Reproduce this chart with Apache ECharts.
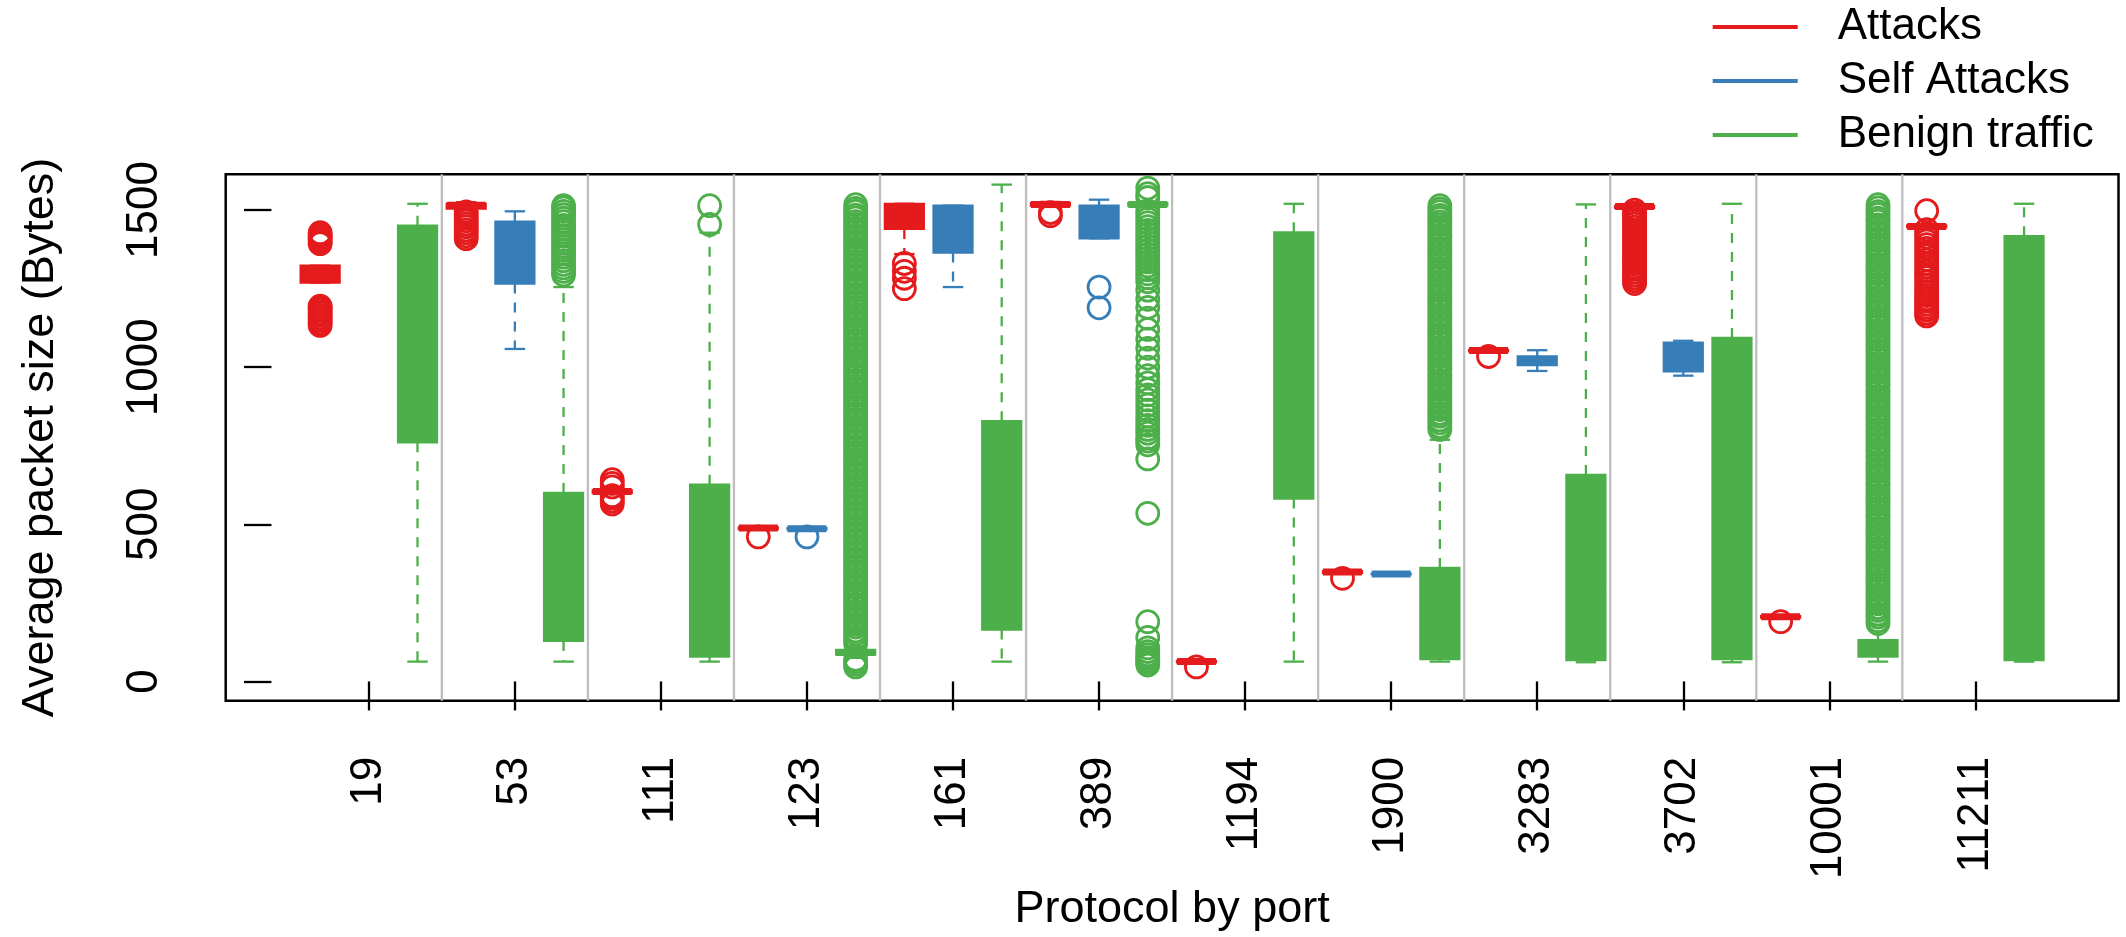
<!DOCTYPE html>
<html>
<head>
<meta charset="utf-8">
<script src="https://cdn.jsdelivr.net/npm/echarts@6/dist/echarts.min.js"></script>
<style>
html,body{margin:0;padding:0;background:#fff;}
#chart{width:2126px;height:937px;}
</style>
</head>
<body>
<div id="chart"></div>
<script>
// ---- Data ----
const ports = ['19','53','111','123','161','389','1194','1900','3283','3702','10001','11211'];
const seriesNames = ['Attacks','Self Attacks','Benign traffic'];
const yTicks = [0, 500, 1000, 1500];

// box stats: [lowerWhisker, Q1, median, Q3, upperWhisker]; null = no data
const attackBoxes = [
  [1269,1269,1300,1323,1323],
  [1500,1505,1515,1520,1525],
  [598,600,604,608,612],
  [484,485,488,490,492],
  [1360,1440,1490,1520,1520],
  [1510,1514,1518,1522,1526],
  [60,61,63,65,66],
  [343,345,348,351,353],
  [1049,1050,1053,1055,1057],
  [1505,1507,1511,1513,1515],
  [202,203,206,208,210],
  [1443,1445,1448,1451,1453]
];
const selfBoxes = [
  null,
  [1058,1266,1380,1463,1496],
  null,
  [482,484,486,488,490],
  [1255,1365,1460,1514,1514],
  [1410,1410,1480,1514,1533],
  null,
  [340,341,342,343,344],
  [988,1007,1020,1034,1054],
  [973,987,1040,1078,1084],
  null,
  null
];
const benignBoxes = [
  [63,761,1180,1450,1520],
  [63,129,390,600,1255],
  [63,79,330,626,1428],
  [75,85,92,100,112],
  [63,165,420,828,1581],
  [1510,1514,1518,1522,1526],
  [63,582,1100,1429,1520],
  [63,71,160,361,769],
  [61,68,300,657,1518],
  [61,71,500,1093,1520],
  [63,79,100,131,180],
  [63,68,900,1417,1520]
];

// outliers per port
const attackOutliers = [
  [1133,1141,1149,1157,1165,1173,1181,1188,1194,1393,1400,1408,1415,1421,1428],
  [1409,1418,1428,1437,1447,1456,1466,1475,1485,1494],
  [565,574,583,591,619,630,642],
  [460],
  [1250,1283,1305,1330],
  [1482,1492],
  [46],
  [328],
  [1034],
  [1266,1275,1284,1293,1302,1311,1320,1329,1338,1347,1356,1365,1374,1383,1392,1401,1410,1419,1428,1437,1446,1455,1464,1473,1482,1491,1500],
  [190],
  [1163,1172,1182,1190,1200,1210,1218,1228,1240,1250,1262,1272,1285,1295,1305,1318,1330,1342,1355,1365,1378,1390,1402,1414,1426,1438,1498]
];
const selfOutliers = [
  [],[],[],[460],[],[1189,1255],[],[],[],[],[],[]
];
const benignOutliers = [
  [],
  [1294,1305,1316,1327,1339,1350,1361,1372,1384,1395,1406,1418,1429,1440,1451,1463,1474,1485,1496,1507,1514],
  [1454,1514],
  [46,55,63,70,120,131,140,152,161,173,182,194,203,215,224,236,245,257,266,278,287,299,308,320,329,341,350,362,371,383,392,404,413,425,434,446,455,467,476,488,497,509,518,530,539,551,560,572,581,593,602,614,623,635,644,656,665,677,686,698,707,719,728,740,749,761,770,782,791,803,812,824,833,845,854,866,875,887,896,908,917,929,938,950,959,971,980,992,1001,1013,1022,1034,1043,1055,1064,1076,1085,1097,1106,1118,1127,1139,1148,1160,1169,1181,1190,1202,1211,1223,1232,1244,1253,1265,1274,1286,1295,1307,1316,1328,1337,1349,1358,1370,1379,1391,1400,1412,1421,1433,1442,1454,1463,1475,1484,1496,1505,1517],
  [],
  [52,60,68,76,85,95,107,140,190,535,708,753,765,775,790,802,815,830,845,863,880,896,912,929,950,973,1000,1029,1060,1089,1120,1156,1190,1216,1245,1272,1285,1297,1310,1322,1335,1347,1360,1372,1385,1397,1410,1422,1435,1447,1460,1472,1485,1497,1540,1552,1570],
  [],
  [802,811,823,832,844,853,865,874,886,895,907,916,928,937,949,958,970,979,991,1000,1012,1021,1033,1042,1054,1063,1075,1084,1096,1105,1117,1126,1138,1147,1159,1168,1180,1189,1201,1210,1222,1231,1243,1252,1264,1273,1285,1294,1306,1315,1327,1336,1348,1357,1369,1378,1390,1399,1411,1420,1432,1441,1453,1462,1474,1483,1495,1504,1514],
  [],
  [],
  [184,193,205,214,226,235,247,256,268,277,289,298,310,319,331,340,352,361,373,382,394,403,415,424,436,445,457,466,478,487,499,508,520,529,541,550,562,571,583,592,604,613,625,634,646,655,667,676,688,697,709,718,730,739,751,760,772,781,793,802,814,823,835,844,856,865,877,886,898,907,919,928,940,949,961,970,982,991,1003,1012,1024,1033,1045,1054,1066,1075,1087,1096,1108,1117,1129,1138,1150,1159,1171,1180,1192,1201,1213,1222,1234,1243,1255,1264,1276,1285,1297,1306,1318,1327,1339,1348,1360,1369,1381,1390,1402,1411,1423,1432,1444,1453,1465,1474,1486,1495,1507,1517],
  []
];

// ---- Styling ----
const colors = ['#E41A1C', '#377EB8', '#4DAF4A'];
const FONT = '"Liberation Sans", Arial, Helvetica, sans-serif';
const X_MIN = -0.94, X_MAX = 37.94, Y_MIN = -61.5, Y_MAX = 1613.8;
const LW = 2.3;

// ---- Build series data ----
function boxData(boxes, offset) {
  const out = [];
  boxes.forEach((b, i) => { if (b) out.push([i * 3 + offset].concat(b)); });
  return out;
}
function outlierData(outs, offset) {
  const out = [];
  outs.forEach((arr, i) => arr.forEach(v => out.push([i * 3 + offset, v])));
  return out;
}
const labelPositions = ports.map((p, i) => i * 3 + 2);
const separatorPositions = ports.slice(1).map((p, i) => i * 3 + 3.5);

function renderBox(params, api) {
  const x = api.value(0);
  const low = api.value(1), q1 = api.value(2), med = api.value(3), q3 = api.value(4), high = api.value(5);
  const c = api.visual('color');
  const X = v => api.coord([v, 0])[0];
  const Y = v => api.coord([x, v])[1];
  const xc = X(x), xl = X(x - 0.4), xr = X(x + 0.4), sl = X(x - 0.21), sr = X(x + 0.21);
  const ch = [];
  const dash = { stroke: c, lineWidth: LW, lineDash: [10, 9] };
  if (high > q3) ch.push({ type: 'line', shape: { x1: xc, y1: Y(q3), x2: xc, y2: Y(high) }, style: dash });
  if (low < q1) ch.push({ type: 'line', shape: { x1: xc, y1: Y(q1), x2: xc, y2: Y(low) }, style: dash });
  ch.push({ type: 'line', shape: { x1: sl, y1: Y(high), x2: sr, y2: Y(high) }, style: { stroke: c, lineWidth: LW } });
  ch.push({ type: 'line', shape: { x1: sl, y1: Y(low), x2: sr, y2: Y(low) }, style: { stroke: c, lineWidth: LW } });
  ch.push({ type: 'rect', shape: { x: xl, y: Y(q3), width: xr - xl, height: Math.max(Y(q1) - Y(q3), 0.5) },
            style: { fill: c, stroke: c, lineWidth: LW } });
  ch.push({ type: 'line', shape: { x1: xl, y1: Y(med), x2: xr, y2: Y(med) }, style: { stroke: c, lineWidth: 7, lineCap: 'butt' } });
  return { type: 'group', children: ch };
}

function renderSep(params, api) {
  const x = api.value(0);
  const p1 = api.coord([x, Y_MIN]), p2 = api.coord([x, Y_MAX]);
  return { type: 'line', shape: { x1: p1[0], y1: p1[1], x2: p2[0], y2: p2[1] }, style: { stroke: '#BEBEBE', lineWidth: 2.3 } };
}

const allBoxes = [attackBoxes, selfBoxes, benignBoxes];
const allOutliers = [attackOutliers, selfOutliers, benignOutliers];

const series = [{
  type: 'custom', name: 'sep', silent: true, z: 1,
  data: separatorPositions.map(v => [v]),
  encode: { x: 0 },
  renderItem: renderSep
}];
seriesNames.forEach((name, k) => {
  series.push({
    type: 'custom', name: name, z: 2,
    itemStyle: { color: colors[k] },
    data: boxData(allBoxes[k], k + 1),
    encode: { x: 0, y: [1, 2, 3, 4, 5] },
    renderItem: renderBox
  });
  series.push({
    type: 'scatter', name: name, z: 3,
    symbol: 'circle', symbolSize: 22,
    itemStyle: { color: 'rgba(0,0,0,0)', borderColor: colors[k], borderWidth: 2.8, opacity: 1 },
    data: outlierData(allOutliers[k], k + 1)
  });
});

const chart = echarts.init(document.getElementById('chart'), null, { renderer: 'canvas' });
chart.setOption({
  animation: false,
  backgroundColor: '#fff',
  textStyle: { fontFamily: FONT },
  grid: { left: 225.7, right: 7.5, top: 174.3, bottom: 220.7, show: true, borderColor: '#000', borderWidth: 2.5, backgroundColor: 'transparent' },
  legend: {
    data: seriesNames.map((n, k) => ({ name: n, itemStyle: { color: colors[k] } })),
    orient: 'vertical', left: 1712.7, top: 5, padding: 0,
    icon: 'rect', itemWidth: 85, itemHeight: 4, itemGap: 10,
    textStyle: { fontSize: 44, color: '#000', fontFamily: FONT, padding: [0, 0, 0, 35] }
  },
  xAxis: {
    type: 'value', min: X_MIN, max: X_MAX,
    name: 'Protocol by port', nameLocation: 'middle', nameGap: 165,
    nameTextStyle: { fontSize: 45, color: '#000', fontFamily: FONT },
    axisLine: { show: false },
    splitLine: { show: false },
    axisTick: { show: true, customValues: labelPositions, length: 29, lineStyle: { color: '#000', width: 2.3 } },
    axisLabel: {
      customValues: labelPositions, rotate: 90, margin: 56,
      fontSize: 44, color: '#000', fontFamily: FONT,
      formatter: v => ports[Math.round((v - 2) / 3)]
    }
  },
  yAxis: {
    type: 'value', min: Y_MIN, max: Y_MAX,
    name: 'Average packet size (Bytes)', nameLocation: 'middle', nameGap: 163,
    nameTextStyle: { fontSize: 45, color: '#000', fontFamily: FONT },
    axisLine: { show: false },
    splitLine: { show: false },
    axisTick: { show: true, customValues: yTicks, length: 27.5, lineStyle: { color: '#000', width: 2.3 } },
    axisLabel: { customValues: yTicks, rotate: 90, margin: 59, fontSize: 44, color: '#000', fontFamily: FONT,
      formatter: v => String(v) }
  },
  series: series
});
</script>
</body>
</html>
